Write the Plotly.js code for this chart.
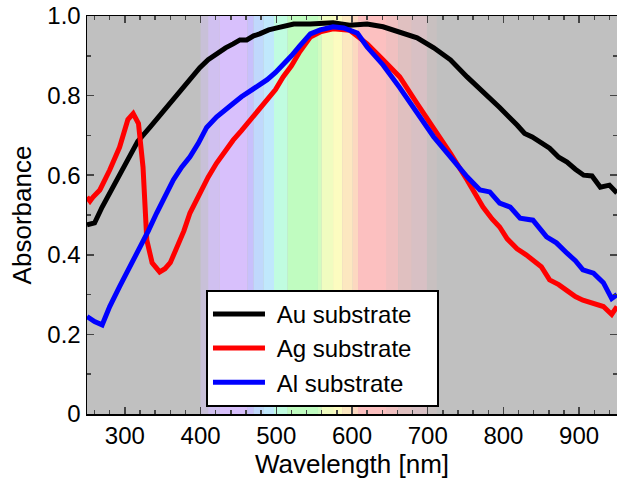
<!DOCTYPE html>
<html>
<head>
<meta charset="utf-8">
<script src="https://cdn.plot.ly/plotly-3.0.1.min.js"></script>
<style>html,body{margin:0;padding:0;background:#fff;}#chart{width:617px;height:484px;}</style>
</head>
<body>
<div id="chart"></div>
<script>
// Au substrate
const auWl = [250,260,270,280,290,300,311,317,333,355,377,399,410,421,433,443,452,461,470,478,490,501,512,523,545,560,575,597,620,641,663,686,708,730,752,773,795,818,828,838,850,861,873,884,895,906,917,928,940,950];
const auAbs = [0.475,0.48,0.52,0.555,0.59,0.625,0.665,0.685,0.72,0.77,0.82,0.87,0.89,0.905,0.92,0.93,0.94,0.94,0.95,0.955,0.965,0.97,0.975,0.98,0.98,0.982,0.983,0.977,0.98,0.973,0.96,0.945,0.92,0.89,0.847,0.81,0.77,0.726,0.705,0.696,0.68,0.668,0.645,0.633,0.615,0.60,0.598,0.57,0.575,0.555];
// Ag substrate
const agWl = [250,254,258,267,280,293,304,311,318,324,329,336,346,353,360,369,378,386,399,410,421,432,443,454,465,476,488,499,509,520,531,545,558,575,597,620,641,663,686,708,730,752,765,773,785,795,805,818,830,839,850,861,873,884,895,905,919,932,943,950];
const agAbs = [0.545,0.535,0.545,0.563,0.613,0.67,0.74,0.755,0.73,0.62,0.437,0.38,0.357,0.365,0.38,0.42,0.46,0.505,0.555,0.595,0.63,0.66,0.688,0.712,0.738,0.76,0.79,0.815,0.847,0.875,0.91,0.947,0.96,0.968,0.964,0.93,0.89,0.847,0.78,0.72,0.655,0.588,0.545,0.52,0.49,0.47,0.44,0.415,0.40,0.387,0.37,0.337,0.325,0.31,0.295,0.286,0.279,0.27,0.25,0.27];
// Al substrate
const alWl = [250,260,270,280,293,307,320,331,342,353,364,375,386,397,408,421,432,443,454,465,476,488,499,509,520,531,545,558,575,589,607,620,641,663,686,708,730,752,769,782,795,809,822,839,857,870,884,895,905,919,932,943,950];
const alAbs = [0.245,0.232,0.224,0.27,0.32,0.37,0.415,0.46,0.505,0.548,0.588,0.62,0.646,0.68,0.72,0.746,0.765,0.78,0.797,0.81,0.825,0.84,0.858,0.877,0.9,0.925,0.955,0.965,0.973,0.97,0.957,0.922,0.877,0.82,0.756,0.696,0.646,0.596,0.563,0.558,0.53,0.52,0.492,0.487,0.445,0.43,0.404,0.385,0.362,0.354,0.33,0.29,0.30];

// spectral background bands (wavelength edges and colours)
const bandStart = [400,410,425,462,470,483,497,515,555,560,575,587,601,608,646,661,679,699];
const bandEnd   = [410,425,462,470,483,497,515,555,560,575,587,601,608,646,661,679,699,712];
const bandColor = ['#c8c0d8','#d0c0f0','#d8c0fc','#c8c0fc','#c0d8fc','#c0e8fc','#c0fce0','#c0fcc0','#d0fcc0','#f0fcc0','#fcfcc0','#fce8c0','#fcd8c0','#fcc0c0','#f0c0c0','#e0c0c0','#d8c0c4','#c8c0c0'];

const xTicks = [300,400,500,600,700,800,900];
const yTicks = [0,0.2,0.4,0.6,0.8,1.0];
const yTickText = ['0','0.2','0.4','0.6','0.8','1.0'];

const names = ['Au substrate','Ag substrate','Al substrate'];
const colors = ['#000000','#ff0000','#0000ff'];
const xs = [auWl, agWl, alWl];
const ys = [auAbs, agAbs, alAbs];

const pad = '\u00a0';
const traces = names.map((n,i)=>({
  x: xs[i], y: ys[i], name: pad + n + pad + pad + pad, type:'scatter', mode:'lines',
  line:{color:colors[i], width:5}
}));

const shapes = bandStart.map((s,i)=>({
  type:'rect', xref:'x', yref:'paper', x0:s, x1:bandEnd[i], y0:0, y1:1,
  fillcolor:bandColor[i], line:{width:0}, layer:'below'
}));

const fam = '"Liberation Sans", Arial, sans-serif';
const tickFont = {family:fam, size:24, color:'#000'};
const titleFont = {family:fam, size:26, color:'#000'};
const layout = {
  width:617, height:484,
  margin:{l:87, r:0, t:16, b:70},
  paper_bgcolor:'#ffffff', plot_bgcolor:'#c0c0c0',
  font: tickFont,
  showlegend:true,
  legend:{x:0.2245, y:0.312, xanchor:'left', yanchor:'top', bgcolor:'#ffffff',
    bordercolor:'#000', borderwidth:2, font:{family:fam, size:24, color:'#000'},
    itemwidth:52, traceorder:'normal'},
  xaxis:{range:[250,950], tickvals:xTicks, ticks:'inside', ticklen:7, tickwidth:1.5,
    showline:true, mirror:'ticks', linecolor:'#000', linewidth:1.5, showgrid:false, zeroline:false,
    minor:{dtick:20, tick0:0, ticks:'inside', ticklen:4, tickwidth:1.5, showgrid:false},
    title:{text:'Wavelength [nm]', font:titleFont, standoff:6}, tickfont:tickFont},
  yaxis:{range:[0,1], tickvals:yTicks, ticktext:yTickText, ticks:'inside', ticklen:7, tickwidth:1.5,
    showline:true, mirror:'ticks', linecolor:'#000', linewidth:1.5, showgrid:false, zeroline:false,
    minor:{dtick:0.1, tick0:0, ticks:'inside', ticklen:4, tickwidth:1.5, showgrid:false},
    title:{text:'Absorbance', font:titleFont, standoff:8}, tickfont:tickFont},
  shapes: shapes
};
Plotly.newPlot('chart', traces, layout, {displayModeBar:false, staticPlot:true});
</script>
</body>
</html>
